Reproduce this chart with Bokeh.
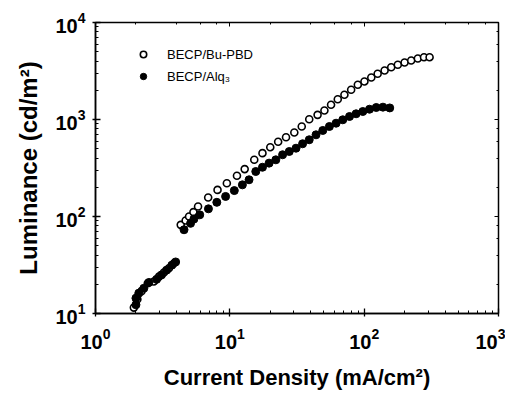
from bokeh.plotting import figure
from bokeh.models import Range1d, LogAxis, Legend, LegendItem, CustomJSTickFormatter
from bokeh.embed import file_html
from bokeh.resources import INLINE

# BECP/Bu-PBD (open circles)
bu_x = [1.93, 2.05, 2.2, 2.45, 2.72, 2.97, 3.23, 3.52, 3.84,
        4.31, 4.69, 4.97, 5.36, 5.8, 6.9, 8.1, 9.5, 11.3, 12.9,
        15.2, 17.5, 20, 22.9, 26.2, 30.2, 34.3, 39, 45, 50.6, 56.7, 63.6,
        71.3, 80, 89.7, 100.5, 113, 126, 142, 159, 178, 200, 224, 251, 279, 307]
bu_y = [11.5, 14.0, 17.0, 20.5, 21.4, 24.0, 26.5, 29.3, 33.0,
        82, 91, 100, 111, 127, 157, 188, 220, 263, 308,
        384, 450, 518, 589, 657, 734, 847, 1007, 1117, 1238, 1417, 1618,
        1797, 2024, 2280, 2467, 2712, 2958, 3200, 3460, 3665, 3870, 4060, 4250, 4390, 4390]

# BECP/Alq3 (filled circles)
alq_x = [2.0, 2.0, 2.1, 2.29, 2.5, 2.85, 3.1, 3.38, 3.7, 3.95,
         4.56, 5.1, 5.4, 5.97, 6.93, 8.0, 9.3, 10.8, 12.4, 13.9,
         15.6, 17.5, 19.6, 22, 24.7, 27.7, 31.1, 34.8, 39, 43.8, 49.2, 55.1,
         61.8, 69.3, 77.8, 87.1, 97.7, 109.6, 123, 138, 155]
alq_y = [12.3, 14.4, 16.2, 18.2, 20.9, 22.5, 25.0, 28.0, 31.5, 34.0,
         73, 85, 94, 104, 120, 140, 161, 185, 212, 239,
         291, 322, 355, 384, 433, 468, 506, 562, 618, 695, 771, 847,
         916, 993, 1074, 1145, 1209, 1276, 1330, 1340, 1316]

FONT = "Liberation Sans"

p = figure(width=505, height=392, x_axis_type="log", y_axis_type="log",
           x_range=Range1d(1, 1000), y_range=Range1d(10, 10000),
           output_backend="svg", toolbar_location=None,
           min_border_left=95, min_border_right=7, min_border_top=22,
           min_border_bottom=76)

p.xgrid.visible = False
p.ygrid.visible = False
p.outline_line_color = "black"
p.outline_line_width = 1.5
p.background_fill_color = "white"
p.border_fill_color = "white"

r1 = p.scatter(bu_x, bu_y, marker="circle", size=7, fill_color="white",
               line_color="black", line_width=1.6)
r2 = p.scatter(alq_x, alq_y, marker="circle", size=8, fill_color="black",
               line_color="black", line_width=1)

for ax in (p.xaxis[0], p.yaxis[0]):
    ax.axis_line_color = "black"
    ax.axis_line_width = 1.5
    ax.major_tick_in = 5
    ax.major_tick_out = 3
    ax.minor_tick_in = 3
    ax.minor_tick_out = 0
    ax.major_tick_line_width = 1.3
    ax.minor_tick_line_width = 1
    ax.major_label_text_font = FONT
    ax.major_label_text_font_style = "bold"
    ax.major_label_text_font_size = "20px"
    ax.major_label_text_color = "black"
    ax.axis_label_text_font = FONT
    ax.axis_label_text_font_style = "bold"
    ax.axis_label_text_color = "black"

p.xaxis.axis_label = "Current Density (mA/cm²)"
p.yaxis.axis_label = "Luminance (cd/m²)"
p.xaxis.axis_label_text_font_size = "22px"
p.yaxis.axis_label_text_font_size = "24px"
p.xaxis.major_label_standoff = 11
p.xaxis.axis_label_standoff = 13
p.yaxis.major_label_standoff = 7
p.yaxis.axis_label_standoff = 10

top = LogAxis(formatter=CustomJSTickFormatter(code="return ''"),
              major_tick_in=4, major_tick_out=0,
              minor_tick_in=2, minor_tick_out=0, axis_line_color=None,
              major_label_standoff=0)
right = LogAxis(formatter=CustomJSTickFormatter(code="return ''"),
                major_tick_in=4, major_tick_out=0,
                minor_tick_in=2, minor_tick_out=0, axis_line_color=None,
                major_label_standoff=0)
p.add_layout(top, "above")
p.add_layout(right, "right")

legend = Legend(items=[LegendItem(label="BECP/Bu-PBD", renderers=[r1]),
                       LegendItem(label="BECP/Alq₃", renderers=[r2])],
                location=(40, 228), border_line_color=None,
                background_fill_alpha=0, label_text_font=FONT,
                label_text_font_size="13px", label_text_color="black",
                glyph_width=16, glyph_height=18, label_standoff=16, spacing=4,
                margin=0, padding=0, label_height=18)
p.add_layout(legend, "center")

open("out.html", "w").write(file_html(p, INLINE))
